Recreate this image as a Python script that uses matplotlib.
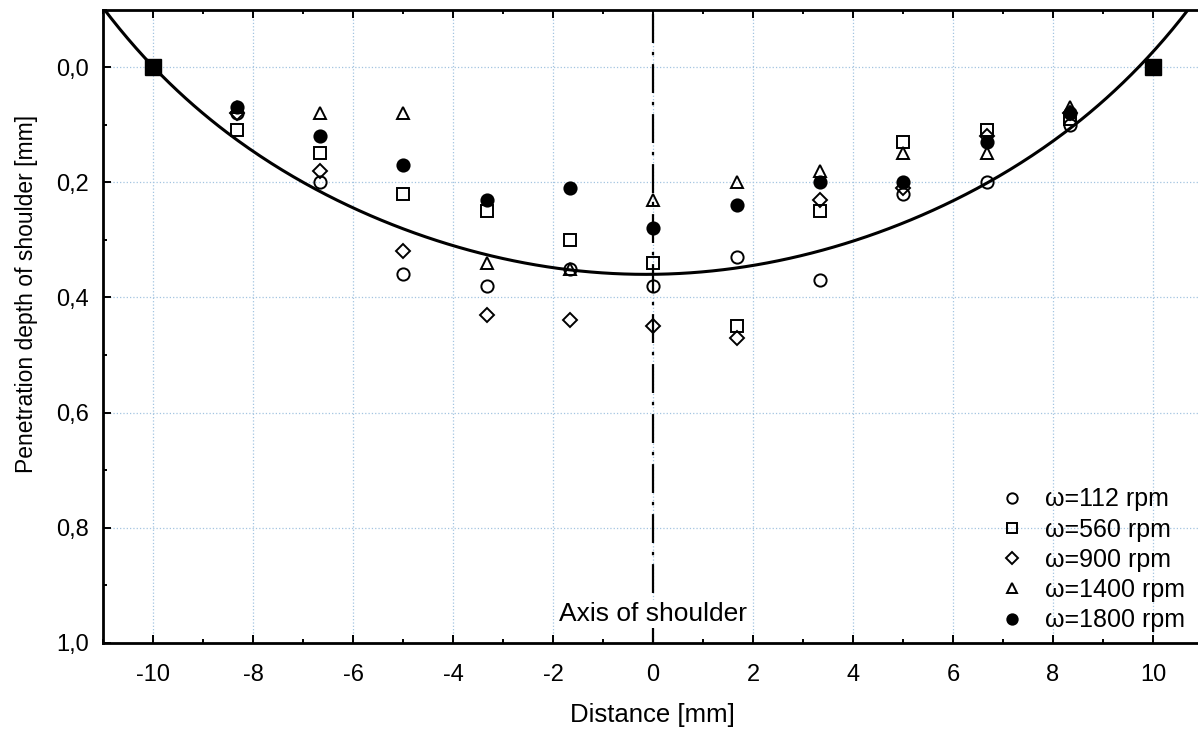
import numpy as np
import matplotlib.pyplot as plt
from matplotlib.ticker import MultipleLocator, FuncFormatter

plt.rcParams['font.family'] = ['Liberation Sans', 'DejaVu Sans']
plt.rcParams['axes.unicode_minus'] = False

# Measurement positions across the shoulder [mm]
distance = [-8.33, -6.67, -5.0, -3.33, -1.67, 0.0, 1.67, 3.33, 5.0, 6.67, 8.33]

# Penetration depth [mm] for each rotational speed
depth_112 = [0.08, 0.20, 0.36, 0.38, 0.35, 0.38, 0.33, 0.37, 0.22, 0.20, 0.10]
depth_560 = [0.11, 0.15, 0.22, 0.25, 0.30, 0.34, 0.45, 0.25, 0.13, 0.11, 0.09]
depth_900 = [0.08, 0.18, 0.32, 0.43, 0.44, 0.45, 0.47, 0.23, 0.21, 0.12, 0.08]
depth_1400 = [0.07, 0.08, 0.08, 0.34, 0.35, 0.23, 0.20, 0.18, 0.15, 0.15, 0.07]
depth_1800 = [0.07, 0.12, 0.17, 0.23, 0.21, 0.28, 0.24, 0.20, 0.20, 0.13, 0.08]

# shoulder edges
edge_x = [-10, 10]
edge_y = [0.0, 0.0]

# fitted profile
curve_x = [-10.96, -10, -8.33, -6.67, -5, -3.33, -1.67, 0, 1.67, 3.33, 5, 6.67, 8.33, 10, 10.64]
curve_y = [-0.099, 0.0, 0.127, 0.211, 0.283, 0.330, 0.350, 0.357, 0.347, 0.322, 0.275, 0.200, 0.100, -0.015, -0.099]

series = [
    (depth_112, 'o', 'none', 'ω=112 rpm'),
    (depth_560, 's', 'none', 'ω=560 rpm'),
    (depth_900, 'D', 'none', 'ω=900 rpm'),
    (depth_1400, '^', 'none', 'ω=1400 rpm'),
    (depth_1800, 'o', 'black', 'ω=1800 rpm'),
]


def main():
    fig = plt.figure(figsize=(11.98, 7.31), dpi=100)
    ax = fig.add_axes([0.086, 0.1204, 0.914, 0.8666])

    coef = np.polyfit(curve_x, curve_y, 6)
    xs = np.linspace(-11, 11, 400)
    ax.plot(xs, np.polyval(coef, xs), color='black', lw=2.2, zorder=3)

    ax.axvline(0, color='black', lw=1.6, linestyle=(0, (13, 4, 1.5, 4)), zorder=2)

    handles = []
    for values, marker, face, label in series:
        ms = 6.8 if marker == 'D' else 8.8
        h = ax.plot(distance, values, linestyle='none', marker=marker, markersize=ms,
                    markerfacecolor=face, markeredgecolor='black', markeredgewidth=1.4,
                    label=label, zorder=4)[0]
        handles.append(h)

    ax.plot(edge_x, edge_y, linestyle='none', marker='s', markersize=11,
            color='black', zorder=5)

    ax.text(0, 0.962, 'Axis of shoulder', ha='center', va='baseline', fontsize=19,
            zorder=6, bbox=dict(facecolor='white', edgecolor='none', pad=1.5))

    ax.set_xlim(-11, 10.9)
    ax.set_ylim(1.0, -0.1)
    ax.xaxis.set_major_locator(MultipleLocator(2))
    ax.xaxis.set_minor_locator(MultipleLocator(1))
    ax.yaxis.set_major_locator(MultipleLocator(0.2))
    ax.yaxis.set_minor_locator(MultipleLocator(0.1))
    ax.yaxis.set_major_formatter(FuncFormatter(lambda v, p: '{:.1f}'.format(v).replace('.', ',')))
    ax.xaxis.set_major_formatter(FuncFormatter(lambda v, p: '{:d}'.format(int(round(v)))))

    ax.tick_params(which='both', direction='in', top=True, right=False, labelsize=17, width=1.4)
    ax.tick_params(which='major', length=6)
    ax.tick_params(which='minor', length=3)
    ax.tick_params(axis='x', which='major', pad=15)
    ax.tick_params(axis='y', which='major', pad=10)

    ax.grid(True, which='major', linestyle=':', color='#a3c4e0', lw=0.9)
    ax.spines['right'].set_visible(False)
    for s in ('left', 'bottom', 'top'):
        ax.spines[s].set_linewidth(2.0)

    ax.set_xlabel('Distance [mm]', fontsize=18.5)
    ax.xaxis.set_label_coords(0.502, -0.095)
    ax.set_ylabel('Penetration depth of shoulder [mm]', fontsize=16.5)
    ax.yaxis.set_label_coords(-0.059, 0.551)

    fig.legend(handles=handles, loc='upper left', bbox_to_anchor=(0.8364, 0.3334),
               frameon=False, fontsize=18, handlelength=0.8, handletextpad=0.92,
               labelspacing=0.25, borderpad=0, borderaxespad=0, markerscale=0.85)

    fig.savefig('out.png', dpi=100)


if __name__ == '__main__':
    main()
